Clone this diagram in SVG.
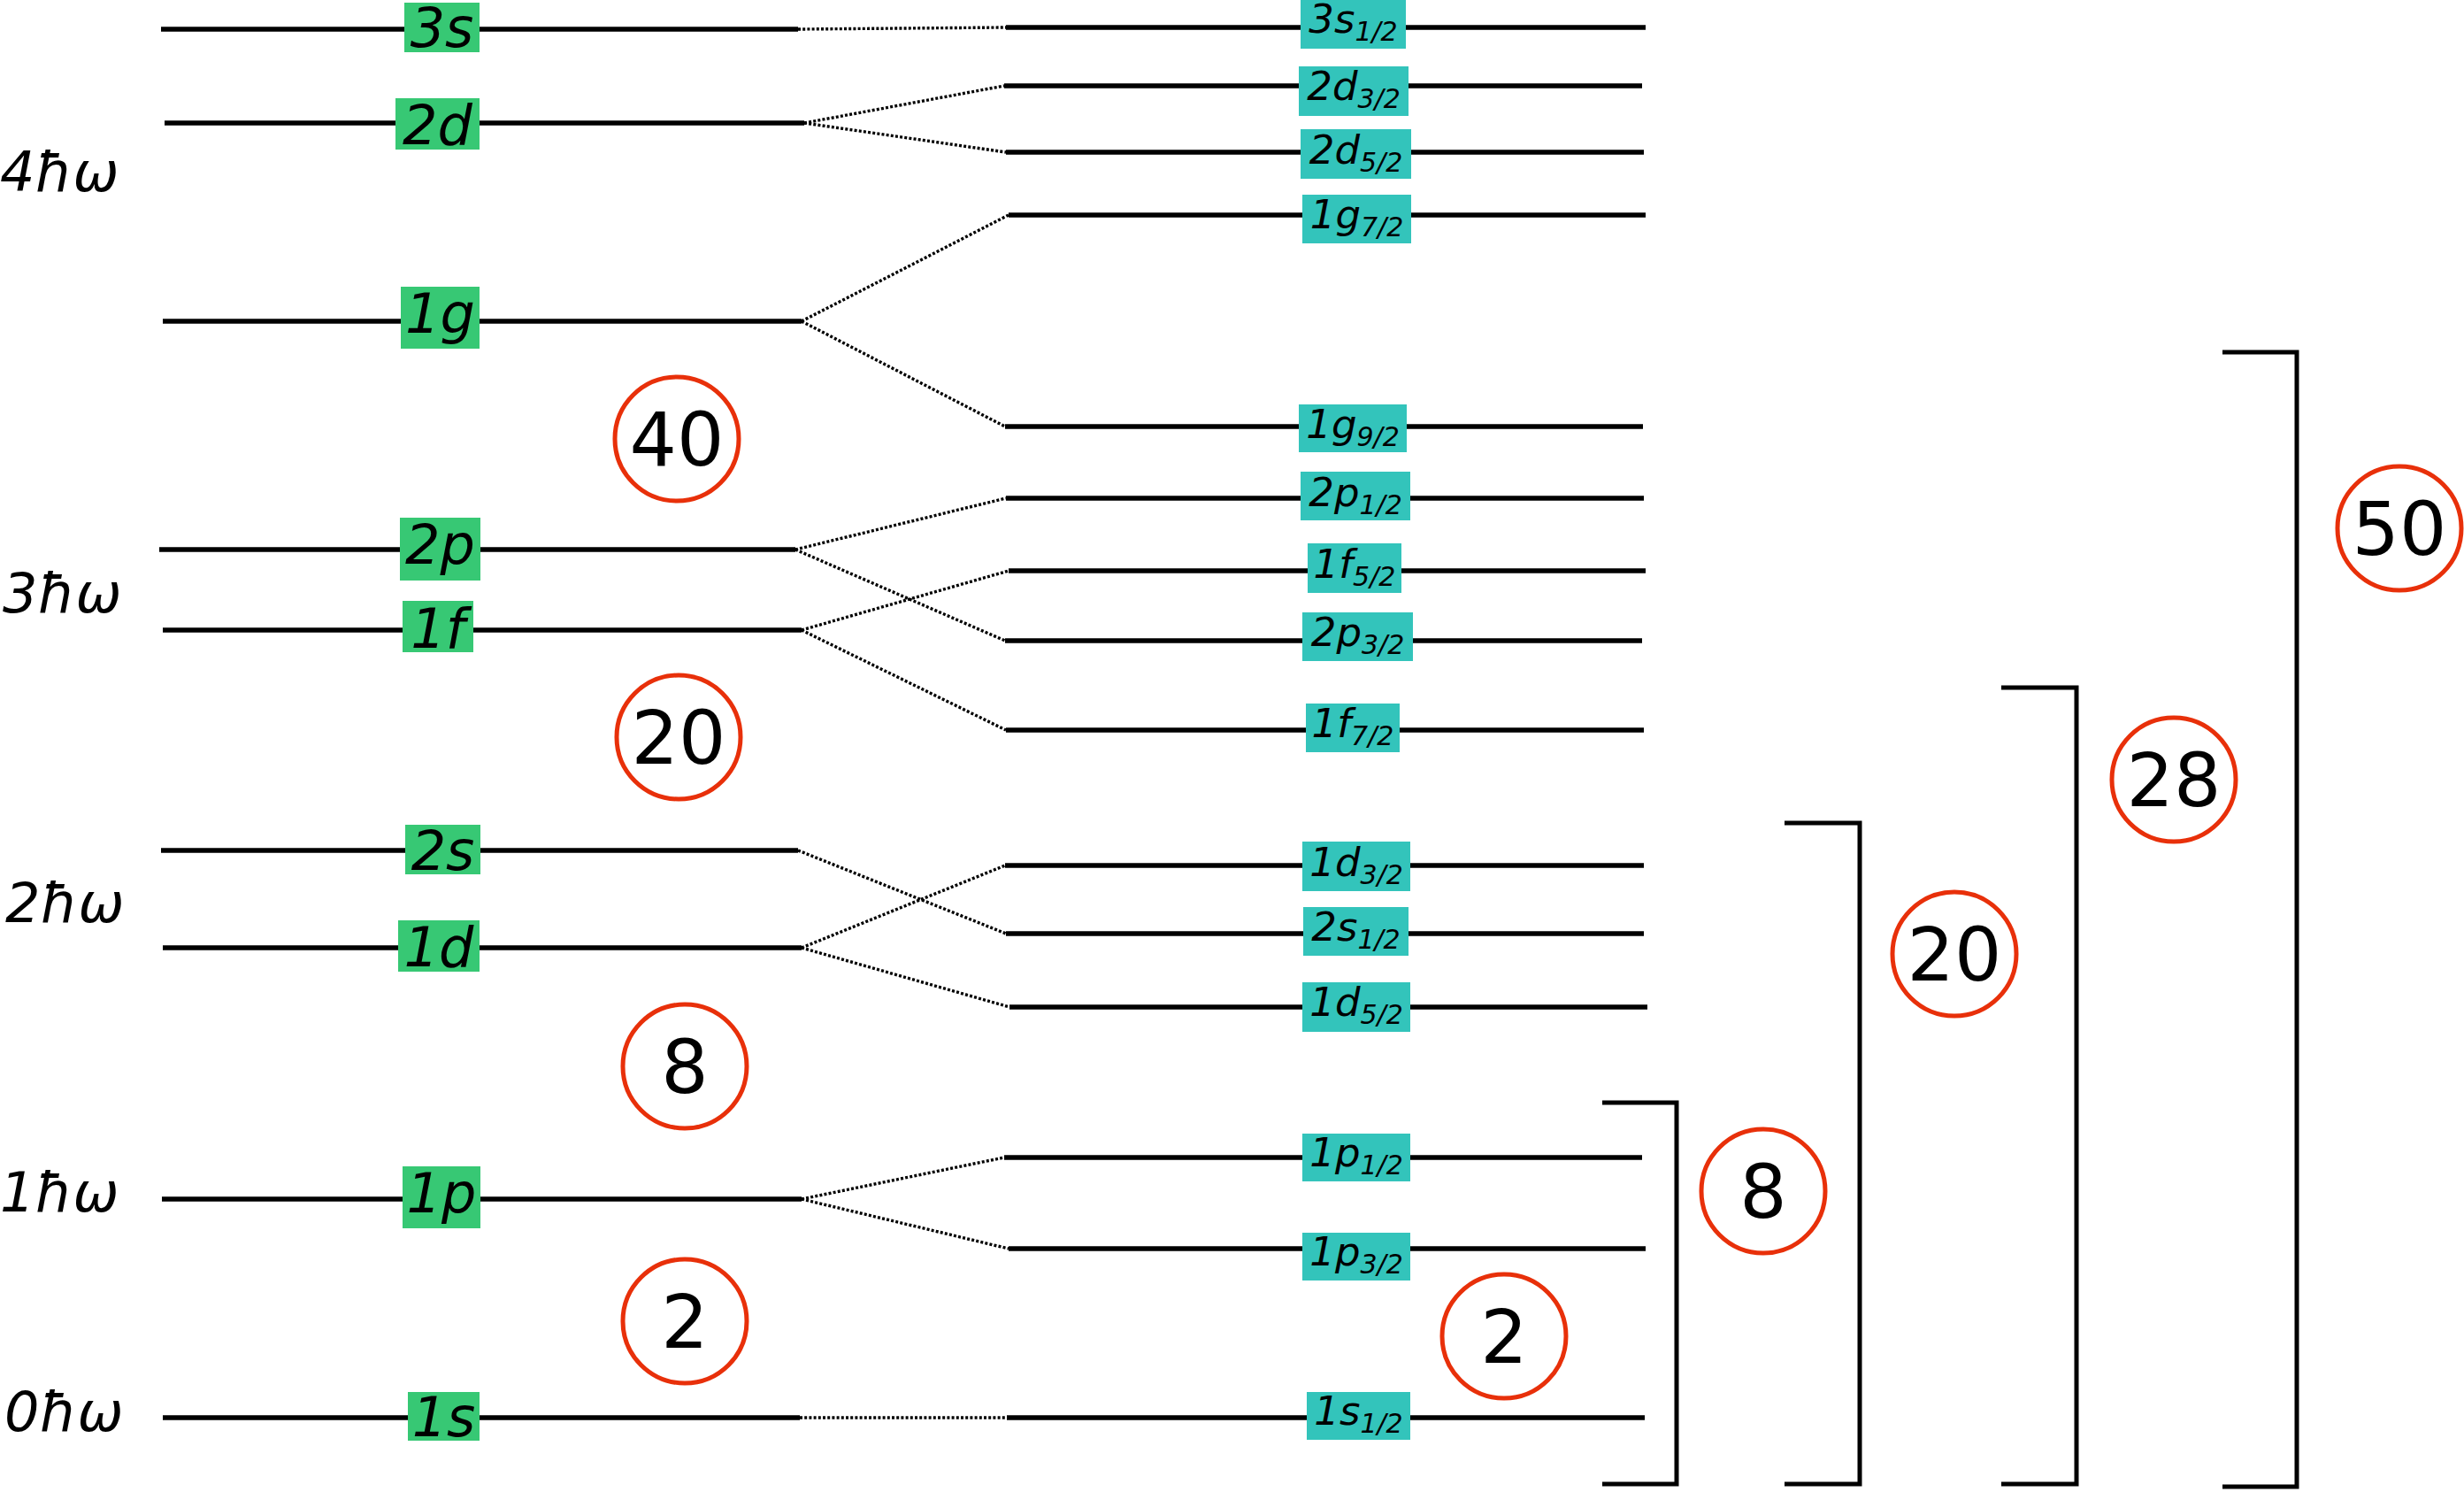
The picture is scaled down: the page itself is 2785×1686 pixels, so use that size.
<svg xmlns="http://www.w3.org/2000/svg" width="2785" height="1686" viewBox="0 0 2785 1686">
<style>
.lv{stroke:#000;stroke-width:5.5;fill:none}
.con{stroke:#000;stroke-width:3.4;stroke-dasharray:3 2.2;fill:none}
.gb{fill:#37C874}
.tb{fill:#33C4BB}
.lt{font-family:"DejaVu Sans",sans-serif;font-style:italic;font-size:62px;text-anchor:middle;fill:#000}
.rt{font-family:"DejaVu Sans",sans-serif;font-style:italic;font-size:45px;text-anchor:middle;fill:#000}
.sub{font-size:30px}
.hw{font-family:"DejaVu Sans",sans-serif;font-style:italic;font-size:62px;fill:#000}
.circ{fill:none;stroke:#E8300A;stroke-width:5}
.num{font-family:"DejaVu Sans",sans-serif;font-size:84px;text-anchor:middle;fill:#000}
.br{stroke:#000;stroke-width:5;fill:none}
</style>
<rect width="2785" height="1686" fill="#fff"/>

<g id="connectors">
<path class="con" d="M902 33 L1137 31"/>
<path class="con" d="M909 139 L1135 97"/>
<path class="con" d="M909 139 L1137 172"/>
<path class="con" d="M906 363 L1140 243"/>
<path class="con" d="M906 363 L1136 482"/>
<path class="con" d="M899 621 L1137 563"/>
<path class="con" d="M899 621 L1136 724"/>
<path class="con" d="M906 712 L1140 645"/>
<path class="con" d="M906 712 L1137 825"/>
<path class="con" d="M902 961 L1137 1055"/>
<path class="con" d="M906 1071 L1136 978"/>
<path class="con" d="M906 1071 L1141 1138"/>
<path class="con" d="M906 1355 L1135 1308"/>
<path class="con" d="M906 1355 L1140 1411"/>
<path class="con" d="M904 1602 L1138 1602"/>
</g>

<g id="energy-labels">
<text class="hw" x="0" y="216">4ħω</text>
<text class="hw" x="3" y="692">3ħω</text>
<text class="hw" x="6" y="1042">2ħω</text>
<text class="hw" x="0" y="1369">1ħω</text>
<text class="hw" x="5" y="1617">0ħω</text>
</g>

<g id="level-3s"><path class="lv" d="M182 33 H902"/><rect class="gb" x="457" y="3" width="85" height="56"/><text class="lt" x="499.5" y="53">3s</text></g>
<g id="level-2d"><path class="lv" d="M186 139 H909"/><rect class="gb" x="447" y="111" width="95" height="58"/><text class="lt" x="494.5" y="163">2d</text></g>
<g id="level-1g"><path class="lv" d="M184 363 H906"/><rect class="gb" x="453" y="324" width="89" height="70"/><text class="lt" x="497.5" y="376">1g</text></g>
<g id="level-2p"><path class="lv" d="M180 621 H899"/><rect class="gb" x="452" y="585" width="91" height="71"/><text class="lt" x="497.5" y="637">2p</text></g>
<g id="level-1f"><path class="lv" d="M184 712 H906"/><rect class="gb" x="455" y="679" width="80" height="58"/><text class="lt" x="495" y="732">1f</text></g>
<g id="level-2s"><path class="lv" d="M182 961 H902"/><rect class="gb" x="458" y="932" width="85" height="56"/><text class="lt" x="500.5" y="983">2s</text></g>
<g id="level-1d"><path class="lv" d="M184 1071 H906"/><rect class="gb" x="450" y="1040" width="92" height="58"/><text class="lt" x="496" y="1092">1d</text></g>
<g id="level-1p"><path class="lv" d="M183 1355 H906"/><rect class="gb" x="455" y="1318" width="88" height="70"/><text class="lt" x="499" y="1370">1p</text></g>
<g id="level-1s"><path class="lv" d="M184 1602 H904"/><rect class="gb" x="461" y="1573" width="81" height="55"/><text class="lt" x="501.5" y="1623">1s</text></g>

<g id="level-3s12"><path class="lv" d="M1137 31 H1860"/><rect class="tb" x="1470" y="0" width="119" height="55"/><text class="rt" x="1529.5" y="37">3s<tspan class="sub" dy="9">1/2</tspan></text></g>
<g id="level-2d32"><path class="lv" d="M1135 97 H1856"/><rect class="tb" x="1468" y="75" width="124" height="56"/><text class="rt" x="1530" y="113">2d<tspan class="sub" dy="9">3/2</tspan></text></g>
<g id="level-2d52"><path class="lv" d="M1137 172 H1858"/><rect class="tb" x="1470" y="146" width="125" height="56"/><text class="rt" x="1532.5" y="185">2d<tspan class="sub" dy="9">5/2</tspan></text></g>
<g id="level-1g72"><path class="lv" d="M1140 243 H1860"/><rect class="tb" x="1472" y="220" width="123" height="55"/><text class="rt" x="1533.5" y="258">1g<tspan class="sub" dy="9">7/2</tspan></text></g>
<g id="level-1g92"><path class="lv" d="M1136 482 H1857"/><rect class="tb" x="1468" y="457" width="122" height="54"/><text class="rt" x="1529" y="495">1g<tspan class="sub" dy="9">9/2</tspan></text></g>
<g id="level-2p12"><path class="lv" d="M1137 563 H1858"/><rect class="tb" x="1470" y="533" width="124" height="55"/><text class="rt" x="1532" y="572">2p<tspan class="sub" dy="9">1/2</tspan></text></g>
<g id="level-1f52"><path class="lv" d="M1140 645 H1860"/><rect class="tb" x="1478" y="614" width="106" height="56"/><text class="rt" x="1531" y="653">1f<tspan class="sub" dy="9">5/2</tspan></text></g>
<g id="level-2p32"><path class="lv" d="M1136 724 H1856"/><rect class="tb" x="1472" y="692" width="125" height="55"/><text class="rt" x="1534.5" y="730">2p<tspan class="sub" dy="9">3/2</tspan></text></g>
<g id="level-1f72"><path class="lv" d="M1137 825 H1858"/><rect class="tb" x="1476" y="795" width="106" height="55"/><text class="rt" x="1529" y="833">1f<tspan class="sub" dy="9">7/2</tspan></text></g>
<g id="level-1d32"><path class="lv" d="M1136 978 H1858"/><rect class="tb" x="1472" y="951" width="122" height="56"/><text class="rt" x="1533" y="990">1d<tspan class="sub" dy="9">3/2</tspan></text></g>
<g id="level-2s12"><path class="lv" d="M1137 1055 H1858"/><rect class="tb" x="1473" y="1025" width="119" height="55"/><text class="rt" x="1532.5" y="1063">2s<tspan class="sub" dy="9">1/2</tspan></text></g>
<g id="level-1d52"><path class="lv" d="M1141 1138 H1862"/><rect class="tb" x="1472" y="1110" width="122" height="56"/><text class="rt" x="1533" y="1148">1d<tspan class="sub" dy="9">5/2</tspan></text></g>
<g id="level-1p12"><path class="lv" d="M1135 1308 H1856"/><rect class="tb" x="1472" y="1281" width="122" height="54"/><text class="rt" x="1533" y="1318">1p<tspan class="sub" dy="9">1/2</tspan></text></g>
<g id="level-1p32"><path class="lv" d="M1140 1411 H1860"/><rect class="tb" x="1472" y="1393" width="122" height="54"/><text class="rt" x="1533" y="1430">1p<tspan class="sub" dy="9">3/2</tspan></text></g>
<g id="level-1s12"><path class="lv" d="M1138 1602 H1859"/><rect class="tb" x="1477" y="1573" width="117" height="54"/><text class="rt" x="1535.5" y="1610">1s<tspan class="sub" dy="9">1/2</tspan></text></g>

<g id="magic-left-40"><circle class="circ" cx="765" cy="496" r="70"/><text class="num" x="765" y="526">40</text></g>
<g id="magic-left-20"><circle class="circ" cx="767" cy="833" r="70"/><text class="num" x="767" y="863">20</text></g>
<g id="magic-left-8"><circle class="circ" cx="774" cy="1205" r="70"/><text class="num" x="774" y="1235">8</text></g>
<g id="magic-left-2"><circle class="circ" cx="774" cy="1493" r="70"/><text class="num" x="774" y="1523">2</text></g>

<g id="magic-right-2"><circle class="circ" cx="1700" cy="1510" r="70"/><text class="num" x="1700" y="1540">2</text></g>
<g id="magic-right-8"><path class="br" d="M1811 1246 H1895 V1677 H1811"/><circle class="circ" cx="1993" cy="1346" r="70"/><text class="num" x="1993" y="1376">8</text></g>
<g id="magic-right-20"><path class="br" d="M2017 930 H2102 V1677 H2017"/><circle class="circ" cx="2209" cy="1078" r="70"/><text class="num" x="2209" y="1108">20</text></g>
<g id="magic-right-28"><path class="br" d="M2262 777 H2347 V1677 H2262"/><circle class="circ" cx="2457" cy="881" r="70"/><text class="num" x="2457" y="911">28</text></g>
<g id="magic-right-50"><path class="br" d="M2512 398 H2596 V1680 H2512"/><circle class="circ" cx="2712" cy="597" r="70"/><text class="num" x="2712" y="627">50</text></g>
</svg>
